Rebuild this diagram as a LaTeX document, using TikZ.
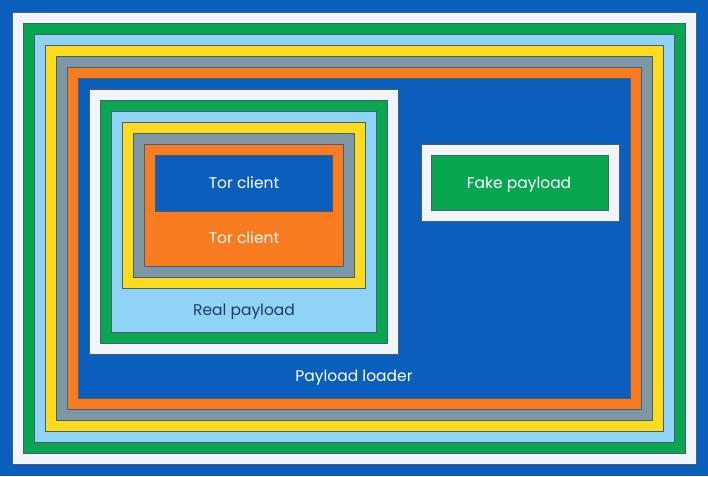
\documentclass[tikz,border=0pt]{standalone}
\usepackage{fontspec}
\setmainfont{Poppins}
\usepackage{xcolor}
\definecolor{bluefill}{HTML}{0A5EBC}
\definecolor{whitefill}{HTML}{F1F5FA}
\definecolor{greenfill}{HTML}{08A650}
\definecolor{skyfill}{HTML}{8FD3F6}
\definecolor{yellowfill}{HTML}{FFDB1E}
\definecolor{greyfill}{HTML}{7D97A6}
\definecolor{orangefill}{HTML}{F97B20}
\definecolor{edge}{HTML}{46606F}
\definecolor{inktext}{HTML}{1F3B57}
\tikzset{
  frame/.style={draw=edge, line width=0.6pt, line join=miter},
  lab/.style={text=white, font=\fontsize{15.5}{18}\selectfont, inner sep=0pt, anchor=base},
  labd/.style={text=inktext, font=\fontsize{15.5}{18}\selectfont, inner sep=0pt, anchor=base},
}
\begin{document}
\begin{tikzpicture}[x=1pt,y=-1pt]
  \useasboundingbox (0,0) rectangle (708,476);
  % outer shells
  \fill[bluefill] (0,0) rectangle (708,476);
  \draw[frame,fill=whitefill] (12,12) rectangle (696,464);
  \draw[frame,fill=greenfill] (23,23) rectangle (685,453);
  \draw[frame,fill=skyfill] (34,34) rectangle (674,442);
  \draw[frame,fill=yellowfill] (45,45) rectangle (663,431);
  \draw[frame,fill=greyfill] (56,56) rectangle (652,420);
  \draw[frame,fill=orangefill] (67,67) rectangle (641,409);
  \draw[frame,fill=bluefill] (78,78) rectangle (630,398);
  % real payload
  \draw[frame,fill=whitefill] (89,89) rectangle (398,354);
  \draw[frame,fill=greenfill] (100,100) rectangle (387,343);
  \draw[frame,fill=skyfill] (111,111) rectangle (376,332);
  \draw[frame,fill=yellowfill] (122,122) rectangle (365,288);
  \draw[frame,fill=greyfill] (133,133) rectangle (354,277);
  \draw[frame,fill=orangefill] (144,144) rectangle (343,266);
  \draw[frame,fill=bluefill] (155,155) rectangle (332,211);
  % fake payload
  \draw[frame,fill=whitefill] (421,144) rectangle (619,221);
  \draw[frame,fill=greenfill] (431,155) rectangle (608,210);
  \node[lab] (torblue) at (244,188) {Tor client};
  \node[lab] (tororange) at (244,243) {Tor client};
  \node[labd] (real) at (244,315) {Real payload};
  \node[lab] (fake) at (519,188) {Fake payload};
  \node[lab] (loader) at (354,381) {Payload loader};
\end{tikzpicture}
\end{document}
